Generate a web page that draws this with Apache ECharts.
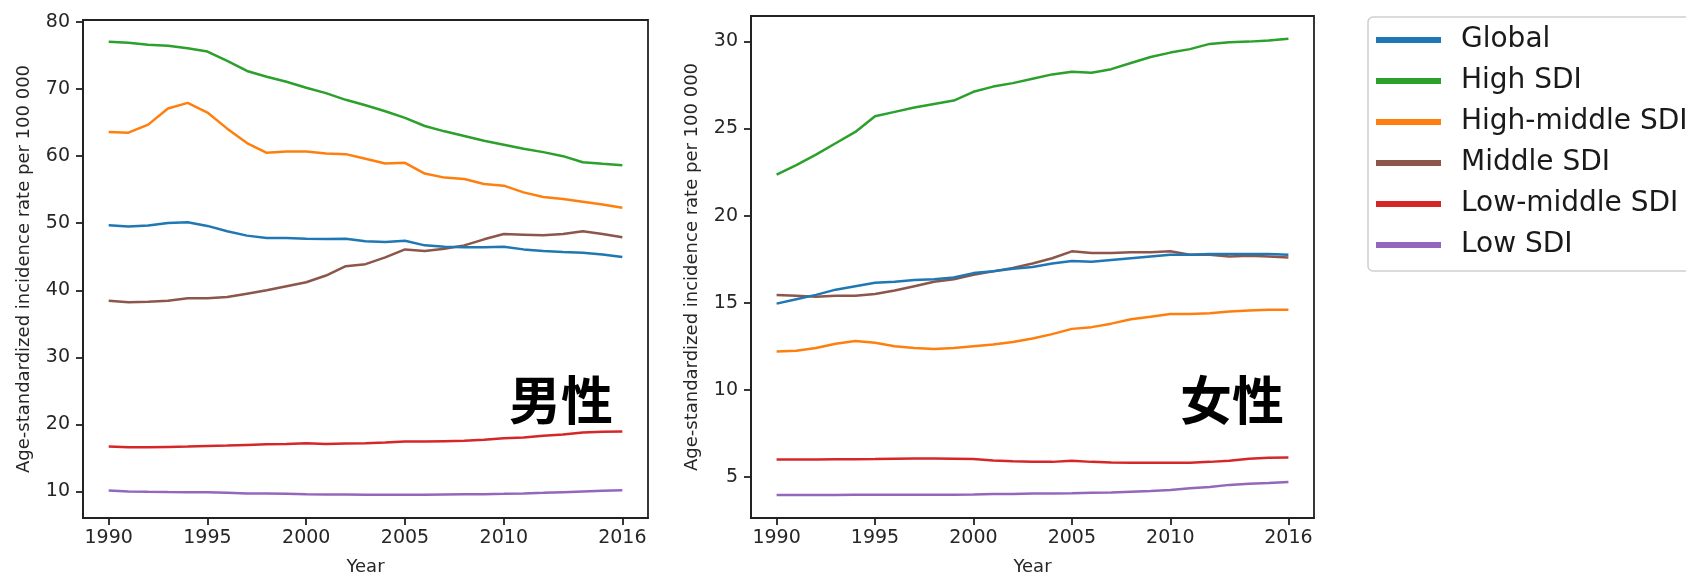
<!DOCTYPE html>
<html>
<head>
<meta charset="utf-8">
<script src="https://cdn.jsdelivr.net/npm/echarts@6/dist/echarts.min.js"></script>
<style>
html,body{margin:0;padding:0;background:#fff;}
#c{width:1686px;height:581px;}
</style>
</head>
<body>
<div id="c"></div>
<script>
const years = [1990,1991,1992,1993,1994,1995,1996,1997,1998,1999,2000,2001,2002,2003,2004,2005,2006,2007,2008,2009,2010,2011,2012,2013,2014,2015,2016];
const xTicks = [1990,1995,2000,2005,2010,2016];
const yTicksMale = [10,20,30,40,50,60,70,80];
const yTicksFemale = [5,10,15,20,25,30];
const seriesNames = ['Global','High SDI','High-middle SDI','Middle SDI','Low-middle SDI','Low SDI'];
const seriesColors = ['#1f77b4','#2ca02c','#ff7f0e','#8c564b','#d62728','#9467bd'];

// Male
const maleGlobal  = [49.7,49.5,49.65,50.05,50.15,49.6,48.8,48.15,47.8,47.8,47.7,47.65,47.7,47.3,47.2,47.4,46.7,46.5,46.4,46.4,46.5,46.1,45.85,45.7,45.6,45.35,44.95];
const maleHigh    = [77.05,76.9,76.6,76.45,76.1,75.6,74.2,72.7,71.85,71.1,70.2,69.4,68.4,67.6,66.7,65.7,64.5,63.7,63.0,62.3,61.7,61.1,60.6,60.0,59.1,58.85,58.65];
const maleHighMid = [63.6,63.5,64.7,67.1,67.95,66.5,64.1,61.95,60.5,60.7,60.7,60.4,60.3,59.6,58.9,59.0,57.4,56.8,56.6,55.85,55.6,54.6,53.9,53.6,53.2,52.8,52.3];
const maleMid     = [38.44,38.2,38.3,38.45,38.8,38.8,39.0,39.5,40.0,40.6,41.2,42.2,43.6,43.9,44.9,46.1,45.85,46.2,46.7,47.6,48.4,48.3,48.2,48.4,48.8,48.4,47.9];
const maleLowMid  = [16.7,16.6,16.6,16.65,16.7,16.8,16.85,16.95,17.05,17.1,17.2,17.1,17.15,17.2,17.3,17.45,17.45,17.5,17.55,17.7,17.95,18.05,18.3,18.5,18.8,18.9,18.95];
const maleLow     = [10.15,10.0,9.95,9.92,9.9,9.88,9.8,9.72,9.7,9.65,9.6,9.57,9.55,9.53,9.52,9.5,9.52,9.55,9.58,9.6,9.65,9.72,9.8,9.9,10.0,10.1,10.2];

// Female
const femGlobal  = [14.95,15.2,15.45,15.75,15.95,16.15,16.2,16.3,16.35,16.45,16.7,16.8,16.95,17.05,17.25,17.4,17.35,17.45,17.55,17.65,17.75,17.75,17.8,17.8,17.8,17.8,17.75];
const femHigh    = [22.35,22.9,23.5,24.15,24.8,25.7,25.95,26.2,26.4,26.6,27.1,27.4,27.6,27.85,28.1,28.25,28.2,28.4,28.75,29.1,29.35,29.55,29.85,29.95,29.98,30.05,30.15];
const femHighMid = [12.2,12.25,12.4,12.65,12.8,12.7,12.5,12.4,12.35,12.4,12.5,12.6,12.75,12.95,13.2,13.5,13.6,13.8,14.05,14.2,14.35,14.35,14.4,14.5,14.55,14.6,14.6];
const femMid     = [15.45,15.4,15.35,15.4,15.4,15.5,15.7,15.95,16.2,16.35,16.6,16.8,17.0,17.25,17.55,17.95,17.85,17.85,17.9,17.9,17.95,17.75,17.75,17.65,17.7,17.65,17.6];
const femLowMid  = [6.0,6.0,6.0,6.02,6.02,6.03,6.05,6.07,6.07,6.05,6.03,5.95,5.9,5.87,5.87,5.93,5.87,5.83,5.82,5.82,5.82,5.82,5.87,5.93,6.05,6.1,6.12];
const femLow     = [3.97,3.97,3.97,3.97,3.98,3.98,3.98,3.98,3.98,3.99,4.0,4.02,4.03,4.05,4.06,4.07,4.1,4.12,4.16,4.2,4.25,4.35,4.43,4.55,4.62,4.66,4.72];

const maleData = [maleGlobal, maleHigh, maleHighMid, maleMid, maleLowMid, maleLow];
const femData  = [femGlobal, femHigh, femHighMid, femMid, femLowMid, femLow];

const FONT = 'DejaVu Sans';
const TXT = '#262626';
const AX = '#222';

function xAxisCfg(gi){
  return {
    type:'value', gridIndex:gi, min:1988.7, max:2017.3,
    name:'Year', nameLocation:'middle', nameGap:40,
    nameTextStyle:{fontFamily:FONT,fontSize:18,color:TXT},
    axisLine:{show:true,onZero:false,lineStyle:{color:AX,width:1.8}},
    axisTick:{show:true,length:7,customValues:xTicks,lineStyle:{color:AX,width:1.8}},
    axisLabel:{customValues:xTicks,fontFamily:FONT,fontSize:19,color:TXT,margin:11,
      formatter:function(v){return String(Math.round(v));}},
    splitLine:{show:false}
  };
}
function yAxisCfg(gi,min,max,ticks){
  return {
    type:'value', gridIndex:gi, min:min, max:max,
    name:'Age-standardized incidence rate per 100 000', nameLocation:'middle', nameGap:50,
    nameTextStyle:{fontFamily:FONT,fontSize:18,color:TXT},
    axisLine:{show:true,onZero:false,lineStyle:{color:AX,width:1.8}},
    axisTick:{show:true,length:7,customValues:ticks,lineStyle:{color:AX,width:1.8}},
    axisLabel:{customValues:ticks,fontFamily:FONT,fontSize:19,color:TXT,margin:13,
      formatter:function(v){return String(Math.round(v));}},
    splitLine:{show:false}
  };
}

const series = [];
[maleData, femData].forEach(function(set, gi){
  set.forEach(function(vals, i){
    series.push({
      name: seriesNames[i], type:'line', xAxisIndex:gi, yAxisIndex:gi,
      data: years.map(function(y,k){return [y, vals[k]];}),
      showSymbol:false, symbol:'none', smooth:false,
      lineStyle:{width:2.5,color:seriesColors[i]},
      itemStyle:{color:seriesColors[i]},
      z: 10 - i
    });
  });
});

const chart = echarts.init(document.getElementById('c'), null, {renderer:'canvas'});
chart.setOption({
  backgroundColor:'#fff',
  animation:false,
  grid:[
    {left:83, right:1038, top:20, bottom:55, show:true, borderColor:AX, borderWidth:1.8, backgroundColor:'transparent'},
    {left:751, right:372, top:16, bottom:58, show:true, borderColor:AX, borderWidth:1.8, backgroundColor:'transparent'}
  ],
  xAxis:[xAxisCfg(0), xAxisCfg(1)],
  yAxis:[yAxisCfg(0,6.05,80.3,yTicksMale), yAxisCfg(1,2.65,31.45,yTicksFemale)],
  legend:{
    orient:'vertical', left:1368, top:17,
    data: seriesNames,
    icon:'rect', itemWidth:65, itemHeight:6, itemGap:13,
    padding:[9,80,12,8],
    borderColor:'#cfcfcf', borderWidth:1.5, borderRadius:5,
    selectedMode:false,
    textStyle:{fontFamily:FONT,fontSize:28,color:'#1a1a1a',lineHeight:28,padding:[0,0,0,15]}
  },
  graphic:[
    {type:'text', left:509, top:374, style:{text:'男性', font:'bold 52px "Noto Sans CJK SC"', fill:'#000'}},
    {type:'text', left:1180, top:374, style:{text:'女性', font:'bold 52px "Noto Sans CJK SC"', fill:'#000'}}
  ],
  series: series
});
</script>
</body>
</html>
